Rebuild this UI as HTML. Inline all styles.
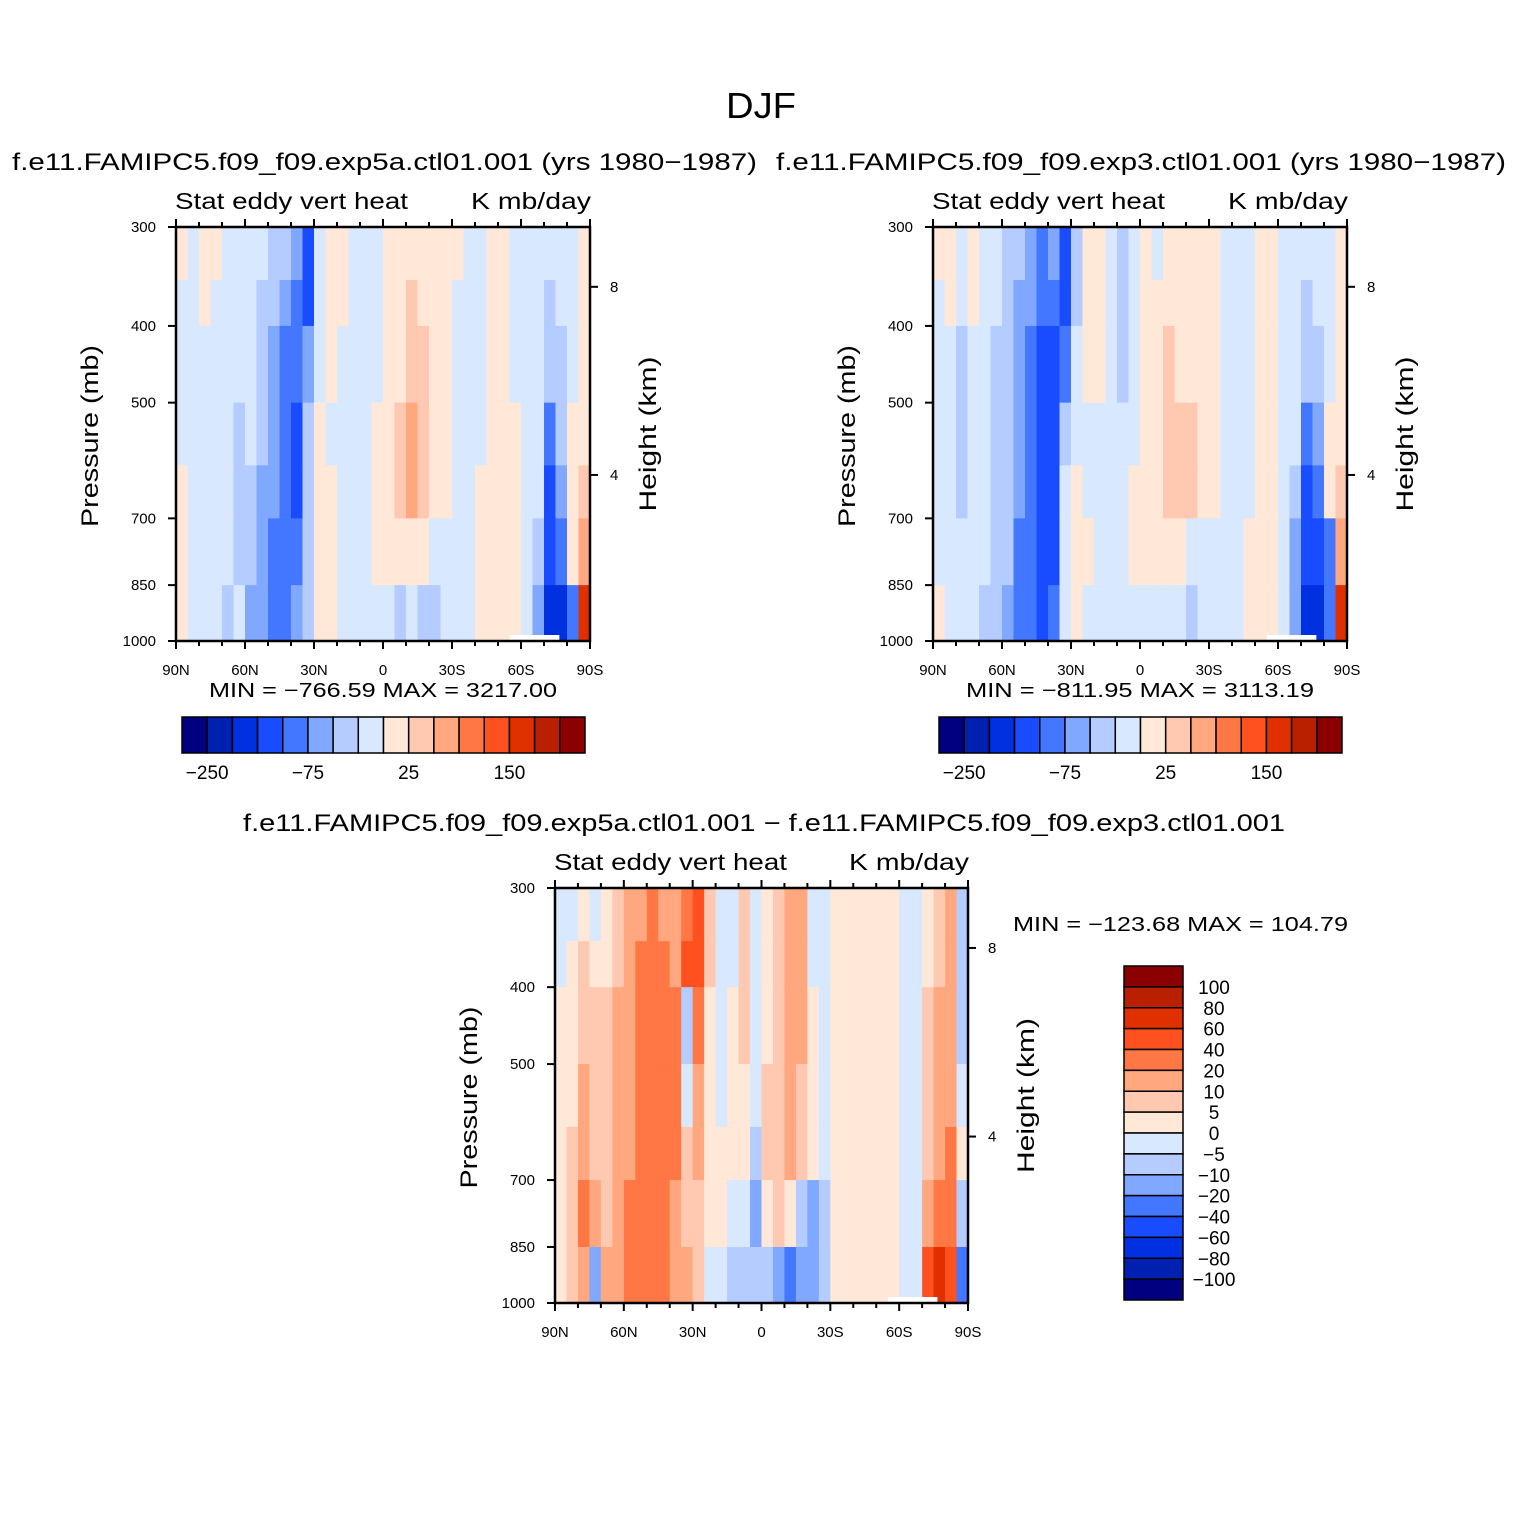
<!DOCTYPE html>
<html><head><meta charset="utf-8"><style>
html,body{margin:0;padding:0;background:#fff}
svg text{font-family:"Liberation Sans","DejaVu Sans",sans-serif;fill:#000}
</style></head><body>
<svg id="fig" width="1524" height="1524" viewBox="0 0 1524 1524" xmlns="http://www.w3.org/2000/svg">
<rect width="1524" height="1524" fill="#fff"/>
<text x="726" y="118" font-size="36" textLength="70" lengthAdjust="spacingAndGlyphs">DJF</text>
<g id="root"></g>
</svg>
<script>
// shared colors and levels
const colors = ["#000080","#0020b0","#0030e0","#1a4cff","#4477ff","#80a8ff","#b4ccff","#d8e8ff","#ffe8d8","#ffc8b0","#ffa880","#ff7744","#ff5020","#e03000","#b82000","#8b0000"];
const levelsTop = [-250,-200,-150,-100,-75,-50,-25,0,25,50,75,100,150,200,250];
const levelsDiff = [-100,-80,-60,-40,-20,-10,-5,0,5,10,20,40,60,80,100];
const pressureBounds = [300,350,400,500,600,700,850,1000];
const latTicks = ["90N","60N","30N","0","30S","60S","90S"];
const pTicks = [300,400,500,700,850,1000];
const hTicks = [8,4];
const hTickPressure = [357,617];
const topBarLabels = ["-250","-75","25","150"];
const topBarLabelIdx = [1,5,9,13];

// panel A: exp5a (rows top->bottom, 36 columns 90N->90S)
const dataA = [
[10,-10,10,10,-10,-10,-10,-10,-40,-40,-60,-120,-10,10,10,-10,-10,-10,10,10,10,10,10,10,10,-10,-10,10,10,-10,-10,-10,-10,-10,-10,10],
[-10,-10,10,-10,-10,-10,-10,-40,-40,-60,-90,-120,-10,10,10,-10,-10,-10,10,10,40,10,10,10,-10,-10,-10,10,10,-10,-10,-10,-40,-10,-10,10],
[-10,-10,-10,-10,-10,-10,-10,-40,-60,-90,-90,-60,-10,10,-10,-10,-10,-10,10,10,40,40,10,10,-10,-10,-10,10,10,-10,-10,-10,-40,-40,-10,10],
[-10,-10,-10,-10,-10,-40,-10,-40,-60,-90,-120,-40,10,-10,-10,-10,-10,10,10,40,60,40,10,10,-10,-10,-10,10,10,10,-10,-10,-90,-40,10,10],
[10,-10,-10,-10,-10,-40,-40,-60,-60,-90,-120,-40,10,10,-10,-10,-10,10,10,40,60,40,10,10,-10,-10,10,10,10,10,-10,-10,-120,-60,10,40],
[10,-10,-10,-10,-10,-40,-40,-60,-90,-90,-90,-40,10,10,-10,-10,-10,10,10,10,10,10,-10,-10,-10,-10,10,10,10,10,-10,-40,-120,-90,10,60],
[10,-10,-10,-10,-40,-10,-60,-60,-90,-90,-60,-40,10,10,-10,-10,-10,-10,-10,-40,-10,-40,-40,-10,-10,-10,10,10,10,10,-10,-60,-170,-170,-90,150]
];
// panel B: exp3
const dataB = [
[10,10,-10,10,-10,-10,-40,-40,-60,-90,-60,-120,-40,10,10,-10,-40,-10,10,-10,10,10,10,10,10,-10,-10,-10,10,10,-10,-10,-10,-10,-10,10],
[-10,10,-10,10,-10,-10,-40,-60,-60,-90,-90,-120,-40,10,10,-10,-40,-10,10,10,10,10,10,10,10,-10,-10,-10,10,10,-10,-10,-40,-10,-10,10],
[-10,-10,-40,-10,-10,-40,-40,-60,-90,-120,-120,-90,-10,10,10,-10,-40,-10,10,10,40,10,10,10,10,-10,-10,-10,10,10,-10,-10,-40,-40,-10,10],
[-10,-10,-40,-10,-10,-40,-40,-60,-90,-120,-120,-40,-10,-10,-10,-10,-10,-10,10,10,40,40,40,10,10,-10,-10,-10,10,10,-10,-10,-90,-60,10,10],
[-10,-10,-40,-10,-10,-40,-40,-60,-90,-120,-120,-10,10,-10,-10,-10,-10,10,10,10,40,40,40,10,10,-10,-10,-10,10,10,-10,-40,-120,-90,10,40],
[-10,-10,-10,-10,-10,-40,-40,-90,-90,-120,-120,-10,10,10,-10,-10,-10,10,10,10,10,10,-10,-10,-10,-10,-10,10,10,10,-10,-60,-120,-120,-90,60],
[10,-10,-10,-10,-40,-40,-60,-90,-90,-120,-90,-10,10,-10,-10,-10,-10,-10,-10,-10,-10,-10,-40,-10,-10,-10,-10,10,10,10,-10,-60,-170,-170,-90,150]
];
// panel C: difference
const dataC = [
[-3,-3,3,-3,3,7,15,15,30,15,15,30,50,7,-3,-3,7,-3,3,7,15,15,-3,-3,3,3,3,3,3,3,-3,-3,3,7,15,-7],
[-3,3,7,3,3,7,15,30,30,30,15,50,50,7,-3,-3,7,-3,3,7,15,15,-3,-3,3,3,3,3,3,3,-3,-3,3,7,15,-7],
[3,3,7,7,7,15,15,30,30,30,30,-7,30,3,-3,3,7,-3,3,7,15,15,3,-3,3,3,3,3,3,3,-3,-3,7,15,15,-7],
[3,3,15,7,7,15,15,30,30,30,30,-3,15,3,-3,3,3,-3,7,7,15,7,3,-3,3,3,3,3,3,3,-3,-3,7,15,15,-3],
[3,7,15,7,7,15,15,30,30,30,30,7,15,3,3,3,3,-7,7,7,15,7,3,-3,3,3,3,3,3,3,-3,-3,7,15,30,3],
[3,7,30,15,7,15,30,30,30,30,15,7,7,3,3,-3,-3,-15,3,7,3,-7,-15,-7,3,3,3,3,3,3,-3,-3,15,30,30,-7],
[3,7,15,-15,15,15,30,30,30,30,15,15,7,-3,-3,-7,-7,-7,-7,-15,-30,-15,-15,-7,3,3,3,3,3,3,-3,-3,50,60,50,-30]
];

const root = document.getElementById('root');
const NS = "http://www.w3.org/2000/svg";
function mk(tag, attrs, parent){const e=document.createElementNS(NS,tag);for(const k in attrs)e.setAttribute(k,attrs[k]);(parent||root).appendChild(e);return e;}
function colorFor(v, levels){let i=0;while(i<levels.length && v>=levels[i])i++;return colors[i];}

function panel(px, py, w, h, data, levels, name){
  const g = mk('g',{});
  
  
  const L = Math.log(1000/300);
  const yOf = p => py + h*Math.log(p/300)/L;
  const xOf = c => px + w*c/36;
  for(let r=0;r<data.length;r++){
    for(let c=0;c<data[r].length;c++){
      const y0=yOf(pressureBounds[r]), y1=yOf(pressureBounds[r+1]);
      const cell = mk('rect',{x:xOf(c),y:y0,width:w/36+0.6,height:y1-y0+0.6,fill:colorFor(data[r][c],levels)},g);
      
      
    }
  }
  mk('rect',{x:px+w*0.806,y:py+h-6,width:w*0.12,height:6,fill:"#fff"},g);
  const frame = mk('rect',{x:px,y:py,width:w,height:h,fill:"none",stroke:"#000","stroke-width":2.5},g);
  
  
  for(let i=0;i<=18;i++){
    const x=px+w*i/18, major=i%3===0, len=major?8:5;
    mk('line',{x1:x,y1:py+h,x2:x,y2:py+h+len,stroke:"#000","stroke-width":2},g);
    mk('line',{x1:x,y1:py,x2:x,y2:py-len,stroke:"#000","stroke-width":2},g);
  }
  latTicks.forEach((t,i)=>{
    const tx = mk('text',{x:px+w*i/6,y:py+h+34,"font-size":15,"text-anchor":"middle"},g);
    tx.textContent=t;
    
    
  });
  pTicks.forEach(p=>{
    const y=yOf(p);
    mk('line',{x1:px,y1:y,x2:px-8,y2:y,stroke:"#000","stroke-width":2},g);
    const tx=mk('text',{x:px-20,y:y+5,"font-size":15,"text-anchor":"end"},g);
    tx.textContent=p;
    
    
  });
  hTicks.forEach((hk,i)=>{
    const y=yOf(hTickPressure[i]);
    mk('line',{x1:px+w,y1:y,x2:px+w+8,y2:y,stroke:"#000","stroke-width":2},g);
    const tx=mk('text',{x:px+w+20,y:y+5,"font-size":15},g);
    tx.textContent=hk;
    
    
  });
  const yl=mk('text',{x:0,y:0,"font-size":24,"text-anchor":"middle",textLength:182,lengthAdjust:"spacingAndGlyphs",transform:`translate(${px-78},${py+h/2+2}) rotate(-90)`},g);
  yl.textContent="Pressure (mb)";
  
  
  const hl=mk('text',{x:0,y:0,"font-size":24,"text-anchor":"middle",textLength:155,lengthAdjust:"spacingAndGlyphs",transform:`translate(${px+w+66},${py+h/2}) rotate(-90)`},g);
  hl.textContent="Height (km)";
  
  
  const l1=mk('text',{x:px-1,y:py-18,"font-size":23,textLength:233,lengthAdjust:"spacingAndGlyphs"},g);
  l1.textContent="Stat eddy vert heat";
  
  
  const l2=mk('text',{x:px+w+1-120,y:py-18,"font-size":23,textLength:120,lengthAdjust:"spacingAndGlyphs"},g);
  l2.textContent="K mb/day";
  
  
}

function text(x,y,s,size,len,name){const t=mk('text',{x:x,y:y,"font-size":size,textLength:len,lengthAdjust:"spacingAndGlyphs"});t.textContent=s;
  
  
  return t;}

function hbar(x,y,w,h){
  const g=mk('g',{});
  
  
  const bw=w/16;
  colors.forEach((c,i)=>{mk('rect',{x:x+i*bw,y:y,width:bw,height:h,fill:c,stroke:"#000","stroke-width":1.5},g);});
  topBarLabels.forEach((s,i)=>{const t=mk('text',{x:x+topBarLabelIdx[i]*bw,y:y+h+26,"font-size":19,"text-anchor":"middle"},g);t.textContent=s.replace('-','\u2212');
    
    });
}

text(12,170,"f.e11.FAMIPC5.f09_f09.exp5a.ctl01.001 (yrs 1980\u22121987)",24,745,"panel-a-title");
panel(176,227,414,414,dataA,levelsTop,"panel-exp5a");
text(209,697,"MIN = \u2212766.59   MAX = 3217.00",20,348,"panel-a-minmax");
hbar(182,717,403,36);
text(776,170,"f.e11.FAMIPC5.f09_f09.exp3.ctl01.001 (yrs 1980\u22121987)",24,730,"panel-b-title");
panel(933,227,414,414,dataB,levelsTop,"panel-exp3");
text(966,697,"MIN = \u2212811.95   MAX = 3113.19",20,348,"panel-b-minmax");
hbar(939,717,403,36);
text(243,831,"f.e11.FAMIPC5.f09_f09.exp5a.ctl01.001 \u2212 f.e11.FAMIPC5.f09_f09.exp3.ctl01.001",24,1042,"diff-title");
panel(555,888,413,415,dataC,levelsDiff,"panel-difference");
text(1013,931,"MIN = \u2212123.68   MAX = 104.79",20,335,"diff-minmax");
(function(){
  const g=mk('g',{});
  
  
  const x=1124,y=966,w=59,h=334,bh=h/16;
  for(let i=0;i<16;i++){mk('rect',{x:x,y:y+i*bh,width:w,height:bh,fill:colors[15-i],stroke:"#000","stroke-width":1.5},g);}
  for(let j=0;j<15;j++){
    const v=levelsDiff[14-j];
    const t=mk('text',{x:1214,y:y+(j+1)*bh+7,"font-size":19,"text-anchor":"middle"},g);
    t.textContent=String(v).replace('-','\u2212');
    
    
  }
})();
</script>
</body></html>
